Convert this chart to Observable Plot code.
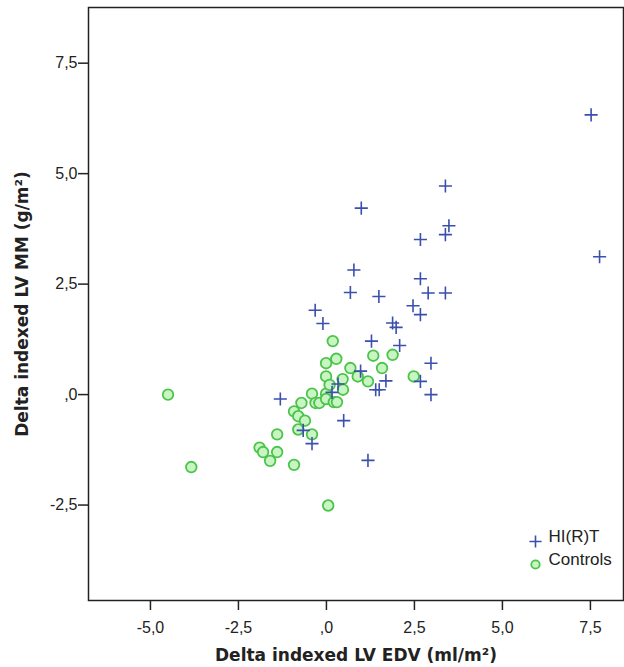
<!DOCTYPE html>
<html>
<head>
<meta charset="utf-8">
<script src="https://cdn.jsdelivr.net/npm/d3@7"></script>
<script src="https://cdn.jsdelivr.net/npm/@observablehq/plot@0.6"></script>
<style>
  html, body { margin: 0; padding: 0; background: #fff; }
  #chart { position: relative; width: 624px; height: 667px; }
</style>
</head>
<body>
<div id="chart"></div>
<script>
// HI(R)T group (blue crosses)
const hirtX = [7.52, 7.76, 3.38, 0.99, 3.48, 3.38, 2.67, 0.78, 2.67, 0.68, 2.89, 3.38, 1.49, 2.46, 2.67, -0.32, -0.10, 1.88, 1.98, 1.28, 2.08, 2.97, 0.97, 1.69, 2.67, 1.40, 1.50, 2.97, 0.16, 0.33, 0.49, -0.41, -0.66, 1.18, -1.31];
const hirtY = [6.33, 3.12, 4.72, 4.22, 3.82, 3.62, 3.51, 2.82, 2.62, 2.31, 2.30, 2.30, 2.22, 2.01, 1.81, 1.91, 1.61, 1.62, 1.52, 1.21, 1.11, 0.71, 0.53, 0.31, 0.30, 0.11, 0.11, 0.00, 0.05, 0.24, -0.59, -1.11, -0.81, -1.49, -0.10];
// Controls group (green circles)
const ctrlX = [-4.50, -3.84, -1.90, -1.80, -1.60, -1.40, -1.40, -0.92, -0.92, -0.80, -0.80, -0.61, -0.71, -0.41, -0.41, -0.31, -0.20, -0.01, -0.01, -0.01, 0.18, 0.05, 0.28, 1.33, 1.88, 0.68, 1.58, 0.46, 0.89, 1.18, 2.48, 0.09, 0.47, -0.01, 0.21, 0.30];
const ctrlY = [0.00, -1.64, -1.20, -1.30, -1.50, -1.30, -0.90, -1.59, -0.38, -0.49, -0.79, -0.59, -0.19, 0.02, -0.90, -0.19, -0.19, 0.02, 0.41, 0.71, 1.21, -2.51, 0.81, 0.88, 0.90, 0.60, 0.60, 0.35, 0.41, 0.30, 0.41, 0.22, 0.11, -0.10, -0.17, -0.17];
const xTicks = [-5, -2.5, 0, 2.5, 5, 7.5];
const yTicks = [-2.5, 0, 2.5, 5, 7.5];
const seriesNames = ["HI(R)T", "Controls"];
const xTitle = "Delta indexed LV EDV (ml/m²)";
const yTitle = "Delta indexed LV MM (g/m²)";

const hirt = hirtX.map((x, i) => ({x, y: hirtY[i]}));
const ctrl = ctrlX.map((x, i) => ({x, y: ctrlY[i]}));
const fmt = d => d === 0 ? ",0" : d.toFixed(1).replace(".", ",");

const blue = "#3a4fae";
const greenStroke = "#4cc44c";
const greenFill = "#c9f5c3";
const ink = "#222";
const titleFont = "'DejaVu Sans', Verdana, sans-serif";

const chart = Plot.plot({
  width: 624,
  height: 667,
  marginLeft: 88,
  marginTop: 7,
  marginRight: 1,
  marginBottom: 67,
  style: {fontFamily: "'Liberation Sans', Arial, sans-serif", fontSize: "16px", color: ink, background: "#fff"},
  x: {domain: [-6.76, 8.44], ticks: xTicks, tickFormat: fmt, label: null},
  y: {domain: [-4.66, 8.76], ticks: yTicks, tickFormat: fmt, label: null},
  marks: [
    Plot.frame({stroke: ink, strokeWidth: 1.5}),
    Plot.axisX({ticks: xTicks, tickFormat: fmt, tickSize: 10, tickPadding: 11, fontSize: 16, stroke: ink, strokeWidth: 1.5, label: null}),
    Plot.axisY({ticks: yTicks, tickFormat: fmt, tickSize: 10, tickPadding: 1, fontSize: 16, stroke: ink, strokeWidth: 1.5, label: null}),
    Plot.dot(ctrl, {x: "x", y: "y", r: 5.3, fill: greenFill, stroke: greenStroke, strokeWidth: 1.8}),
    Plot.dot(hirt, {x: "x", y: "y", r: 4.3, symbol: "plus", stroke: blue, strokeWidth: 1.6}),
    // legend
    Plot.dot([seriesNames[0]], {frameAnchor: "bottom-right", dx: -88, dy: -59, r: 4, symbol: "plus", stroke: blue, strokeWidth: 1.6}),
    Plot.dot([seriesNames[1]], {frameAnchor: "bottom-right", dx: -88, dy: -36, r: 4.2, fill: greenFill, stroke: greenStroke, strokeWidth: 1.8}),
    Plot.text([seriesNames[0]], {frameAnchor: "bottom-right", dx: -75, dy: -59, text: d => d, textAnchor: "start", fontSize: 17, fill: ink}),
    Plot.text([seriesNames[1]], {frameAnchor: "bottom-right", dx: -75, dy: -36, text: d => d, textAnchor: "start", fontSize: 17, fill: ink}),
    // axis titles
    Plot.text([xTitle], {frameAnchor: "bottom", dy: 60, text: d => d, textAnchor: "middle", fontSize: 17, fontWeight: "bold", fontFamily: titleFont, fill: ink}),
    Plot.text([yTitle], {frameAnchor: "left", dx: -66, rotate: -90, text: d => d, textAnchor: "middle", fontSize: 17, fontWeight: "bold", fontFamily: titleFont, fill: ink})
  ]
});
document.getElementById("chart").appendChild(chart);
</script>
</body>
</html>
